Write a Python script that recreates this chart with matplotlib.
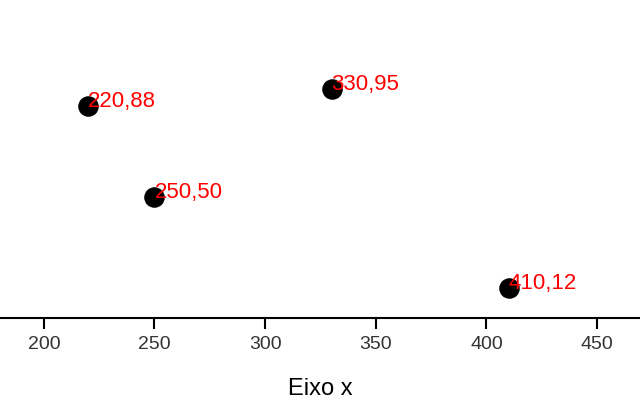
import matplotlib
matplotlib.use("Agg")
import matplotlib.pyplot as plt

plt.rcParams['font.family'] = ['Liberation Sans', 'DejaVu Sans']

x = [220, 250, 330, 410]
y = [88, 50, 95, 12]
labels = ["220,88", "250,50", "330,95", "410,12"]
xticks = [200, 250, 300, 350, 400, 450]

fig = plt.figure(figsize=(6.4, 4), dpi=100)
ax = fig.add_axes([0, 0.205, 1, 0.795])

ax.scatter(x, y, s=190, color='black', zorder=3)
for xi, yi, lab in zip(x, y, labels):
    ax.text(xi, yi - 0.3, lab, color='red', fontsize=16, ha='left', va='baseline')

ax.set_xlim(180.2, 469.4)
ax.set_ylim(-0.5, 132.2)
ax.set_xticks(xticks)
ax.set_yticks([])
for side in ['top', 'right', 'left']:
    ax.spines[side].set_visible(False)
ax.spines['bottom'].set_linewidth(1.5)
ax.tick_params(axis='x', length=8, width=1.5, labelsize=14, labelcolor='#333333', pad=5)
ax.set_xlabel("Eixo x", fontsize=17, labelpad=18)

fig.savefig("out.png", dpi=100)
